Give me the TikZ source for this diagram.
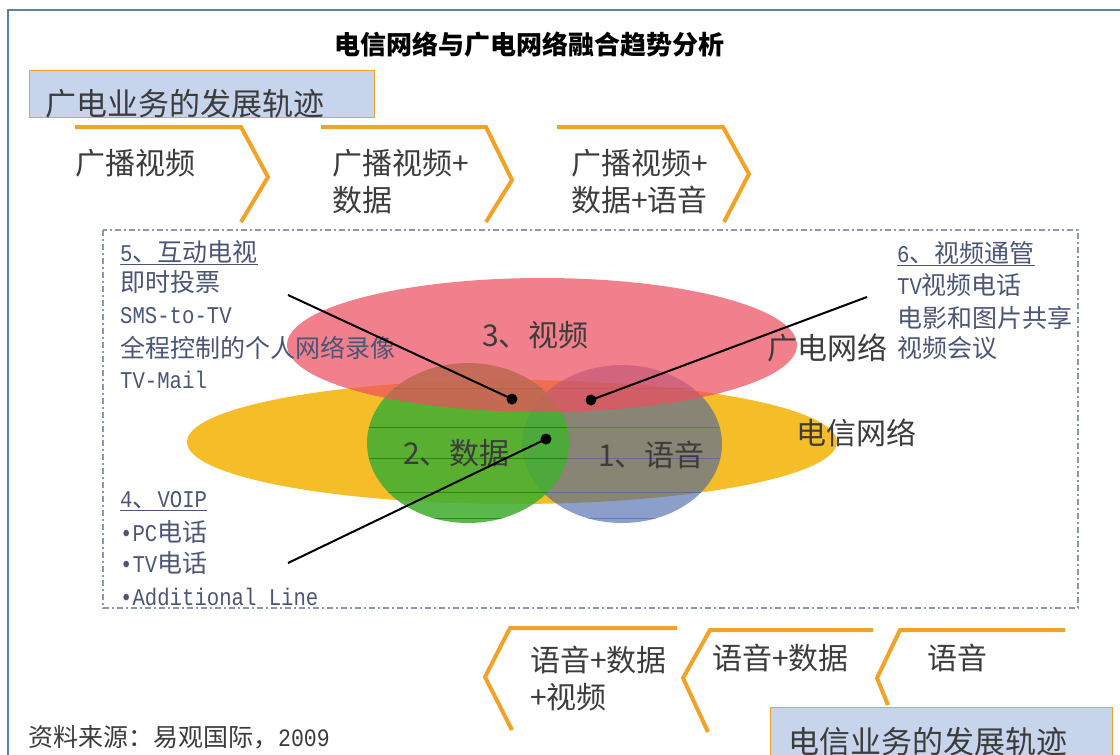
\documentclass[tikz,border=0pt]{standalone}
\usepackage{fontspec}
\setmainfont{Noto Sans CJK SC}
\newfontfamily\monofam{Liberation Mono}[FakeStretch=0.86]
\newcommand\fbig{\fontsize{30}{36}\selectfont}
\newcommand\flst{\fontsize{25}{30}\selectfont}
\newcommand\fmono{\monofam\fontsize{24}{28}\selectfont}
\definecolor{orng}{HTML}{F2A226}
\definecolor{frameblue}{HTML}{5B82A6}
\definecolor{boxblue}{HTML}{C6D4EC}
\definecolor{txt}{HTML}{3C3C3C}
\definecolor{lstc}{HTML}{4B5578}
\definecolor{dashc}{HTML}{8A97B5}
\definecolor{redf}{HTML}{EE5060}
\definecolor{yelf}{HTML}{F5BE28}
\definecolor{grnf}{HTML}{44AE32}
\definecolor{bluf}{HTML}{4060A8}
\tikzset{
  lbl/.style={inner sep=0, anchor=base west},
  biglbl/.style={lbl, font=\fbig, text=txt},
  lstlbl/.style={lbl, font=\flst, text=lstc},
  chev/.style={draw=orng, line width=4, line join=miter},
  trackbox/.style={draw=orng, line width=1.2, fill=boxblue, anchor=north west, inner sep=0},
  dotn/.style={circle, fill=black, inner sep=0, minimum size=11},
  pointer/.style={draw=black, line width=2},
  hatch/.style={line width=0.8, opacity=0.55}
}
\begin{document}
\begin{tikzpicture}[x=1pt,y=-1pt]
\useasboundingbox (0,0) rectangle (1120,755);
\fill[white] (0,0) rectangle (1120,755);
% outer frame
\draw[frameblue, line width=2] (8,770) -- (8,10) -- (1130,10);
% title
\node[font=\fontsize{26}{30}\selectfont\bfseries, inner sep=0] (title) at (529,45) {电信网络与广电网络融合趋势分析};
% top track box
\node[trackbox, minimum width=345, minimum height=47] (gbox) at (29,70) {};
\node[biglbl, font=\fontsize{31}{36}\selectfont] (gtxt) at (45,115) {广电业务的发展轨迹};
% top chevrons
\draw[chev] (75,127) -- (241,127) -- (268,177) -- (241,222);
\draw[chev] (321,127) -- (486,127) -- (512,180) -- (486,222);
\draw[chev] (557,127) -- (723,127) -- (749,174) -- (724,222);
\node[biglbl] (t1) at (75,174) {广播视频};
\node[biglbl] (t2a) at (332,174) {广播视频+};
\node[biglbl] (t2b) at (332,211) {数据};
\node[biglbl] (t3a) at (571,174) {广播视频+};
\node[biglbl] (t3b) at (571,211) {数据+语音};
% dashed region
\draw[dashc, line width=1.5, dash pattern=on 6pt off 3pt on 2pt off 3pt] (103,230) rectangle (1078,608);
% ellipses
\fill[yelf] (512,442) ellipse [x radius=325pt, y radius=62pt];
\fill[bluf, fill opacity=0.6] (622,444) ellipse [x radius=100pt, y radius=79pt];
\begin{scope}
  \clip (622,444) ellipse [x radius=100pt, y radius=79pt];
  \foreach \yy in {388,427,458,492,518} \draw[hatch, draw=bluf] (500,\yy) -- (740,\yy);
\end{scope}
\fill[grnf, fill opacity=0.88] (468,443) ellipse [x radius=101pt, y radius=80pt];
\begin{scope}
  \clip (468,443) ellipse [x radius=101pt, y radius=80pt];
  \foreach \yy in {388,427,458,492,518} \draw[hatch, draw=green!40!black] (350,\yy) -- (580,\yy);
\end{scope}
\fill[redf, fill opacity=0.72] (542,345) ellipse [x radius=255pt, y radius=67pt];
% ellipse labels
\node[biglbl] (l3) at (482,346) {3、视频};
\node[biglbl] (lgd) at (767,359) {广电网络};
\node[biglbl] (ldx) at (796,444) {电信网络};
\node[biglbl] (l2) at (403,464) {2、数据};
\node[biglbl] (l1) at (598,466) {1、语音};
% left list 5
\node[lstlbl] (h5) at (120,261) {\underline{{\fmono 5}、互动电视}};
\node[lstlbl] (a5) at (120,291) {即时投票};
\node[lbl, font=\fmono, text=lstc] (b5) at (120,323) {SMS-to-TV};
\node[lstlbl] (c5) at (120,357) {全程控制的个人网络录像};
\node[lbl, font=\fmono, text=lstc] (d5) at (120,388) {TV-Mail};
% left list 4
\node[lstlbl] (h4) at (120,507) {\underline{{\fmono 4}、{\fmono VOIP}}};
\node[lstlbl] (a4) at (120,541) {{\fmono •PC}电话};
\node[lstlbl] (b4) at (120,572) {{\fmono •TV}电话};
\node[lbl, font=\fmono, text=lstc] (c4) at (120,605) {•Additional Line};
% right list 6
\node[lstlbl] (h6) at (897,262) {\underline{{\fmono 6}、视频通管}};
\node[lstlbl] (a6) at (897,294) {{\fmono TV}视频电话};
\node[lstlbl] (b6) at (897,327) {电影和图片共享};
\node[lstlbl] (c6) at (897,357) {视频会议};
% pointers
\coordinate (p5) at (288,295);
\coordinate (p6) at (867,297);
\coordinate (p4) at (288,563);
\node[dotn] (d5dot) at (512,399) {};
\node[dotn] (d6dot) at (591,400) {};
\node[dotn] (d4dot) at (546,439) {};
\draw[pointer] (p5) -- (d5dot.center);
\draw[pointer] (p6) -- (d6dot.center);
\draw[pointer] (p4) -- (d4dot.center);
% bottom chevrons
\draw[chev] (677,628) -- (510,628) -- (485,677) -- (512,730);
\draw[chev] (873,630) -- (710,630) -- (683,678) -- (708,732);
\draw[chev] (1065,630) -- (900,630) -- (877,678) -- (888,705);
\node[biglbl] (s1a) at (530,671) {语音+数据};
\node[biglbl] (s1b) at (530,708) {+视频};
\node[biglbl] (s2) at (712,669) {语音+数据};
\node[biglbl] (s3) at (927,669) {语音};
% bottom track box
\node[trackbox, minimum width=342, minimum height=60] (dbox) at (770,707) {};
\node[biglbl, font=\fontsize{31}{36}\selectfont] (dtxt) at (788,753) {电信业务的发展轨迹};
% source
\node[lbl, font=\fontsize{25}{30}\selectfont, text=txt] (src) at (28,746) {资料来源：易观国际，{\monofam 2009}};
\end{tikzpicture}
\end{document}
